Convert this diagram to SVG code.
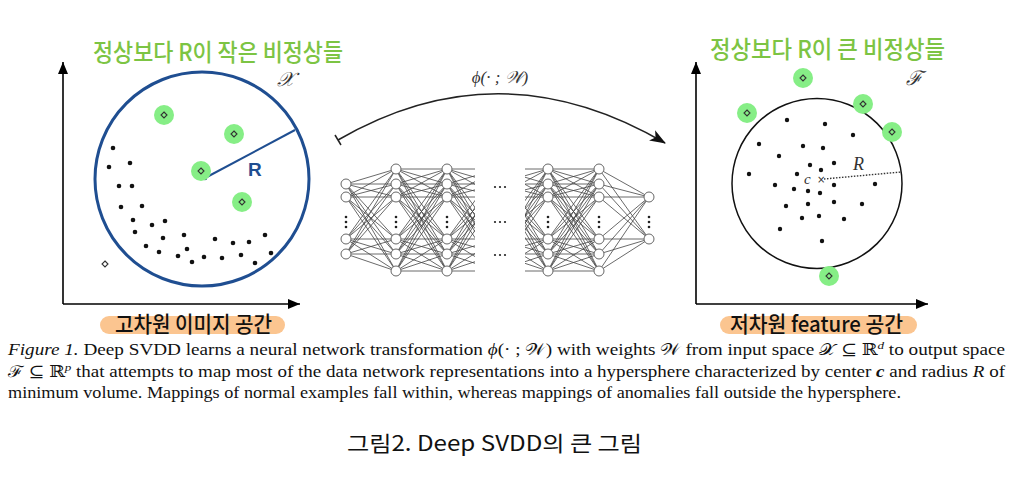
<svg xmlns="http://www.w3.org/2000/svg" xmlns:xlink="http://www.w3.org/1999/xlink" width="1014" height="477" viewBox="0 0 1014 477">
<style>
.dot{fill:#111}
.gc{fill:#86ee86}
.dia{fill:none;stroke:#333;stroke-width:1.1}
.node{fill:#fff;stroke:#666;stroke-width:1}
.edge{fill:none;stroke:#444;stroke-width:0.8}
.axis{stroke:#000;stroke-width:1.6;fill:none}
.vd{fill:#222}
.title{font-family:"Noto Sans CJK KR",sans-serif;font-size:24px;font-weight:500;fill:#7cc443}
.lab{font-family:"Noto Sans CJK KR",sans-serif;font-size:22px;font-weight:500;fill:#111}
.pill{fill:#fbc590}
.cap{font-family:"Liberation Serif","DejaVu Serif",serif;font-size:16px;fill:#111}
.math{font-family:"Liberation Serif","DejaVu Serif",serif;font-style:italic;fill:#333}
</style>
<defs>
<marker id="ah" viewBox="0 0 12 10" refX="12" refY="5" markerWidth="12" markerHeight="10" markerUnits="userSpaceOnUse" orient="auto">
<path d="M0 0L12 5L0 10Z" fill="#000"/>
</marker>
<marker id="bh" viewBox="0 0 16 12" refX="15" refY="6" markerWidth="16" markerHeight="12" markerUnits="userSpaceOnUse" orient="auto">
<path d="M0 0L16 6L0 12L4 6Z" fill="#111"/>
</marker>
<path id="dia" d="M0 -3L3 0L0 3L-3 0Z"/>
<path id="hh" d="M0 169L51 169M0 169L51 184M0 169L51 197M0 169L51 239M0 169L51 254M0 169L51 271M0 184L51 169M0 184L51 184M0 184L51 197M0 184L51 239M0 184L51 254M0 184L51 271M0 197L51 169M0 197L51 184M0 197L51 197M0 197L51 239M0 197L51 254M0 197L51 271M0 239L51 169M0 239L51 184M0 239L51 197M0 239L51 239M0 239L51 254M0 239L51 271M0 254L51 169M0 254L51 184M0 254L51 197M0 254L51 239M0 254L51 254M0 254L51 271M0 271L51 169M0 271L51 184M0 271L51 197M0 271L51 239M0 271L51 254M0 271L51 271"/>
<path id="ih" d="M0 184L50 169M0 184L50 184M0 184L50 197M0 184L50 239M0 184L50 254M0 184L50 271M0 197L50 169M0 197L50 184M0 197L50 197M0 197L50 239M0 197L50 254M0 197L50 271M0 239L50 169M0 239L50 184M0 239L50 197M0 239L50 239M0 239L50 254M0 239L50 271M0 254L50 169M0 254L50 184M0 254L50 197M0 254L50 239M0 254L50 254M0 254L50 271"/>
<path id="ho" d="M0 169L50 197M0 169L50 239M0 184L50 197M0 184L50 239M0 197L50 197M0 197L50 239M0 239L50 197M0 239L50 239M0 254L50 197M0 254L50 239M0 271L50 197M0 271L50 239"/>
<clipPath id="clipL"><rect x="440" y="150" width="35" height="130"/></clipPath>
<clipPath id="clipR"><rect x="525" y="150" width="30" height="130"/></clipPath>
<g id="vdots"><circle cx="0" cy="-5" r="1.3"/><circle cx="0" cy="0" r="1.3"/><circle cx="0" cy="5" r="1.3"/></g>
<g id="hdots"><circle cx="-5" cy="0" r="1.1"/><circle cx="0" cy="0" r="1.1"/><circle cx="5" cy="0" r="1.1"/></g>
</defs>
<rect width="1014" height="477" fill="#fff"/>

<!-- Left panel: input space -->
<g id="left-space">
<text class="title" x="93" y="61" textLength="250" lengthAdjust="spacingAndGlyphs">정상보다 R이 작은 비정상들</text>
<path class="axis" d="M63 304V62" marker-end="url(#ah)"/>
<path class="axis" d="M63 304H300" marker-end="url(#ah)"/>
<text class="math" x="277" y="86" font-size="20">𝒳</text>
<circle cx="202" cy="179" r="107" fill="none" stroke="#1f4e91" stroke-width="3"/>
<line x1="205" y1="178" x2="295" y2="130" stroke="#1f4e91" stroke-width="2"/>
<circle cx="205" cy="178" r="2.2" fill="#123d6e"/>
<text x="248" y="176" font-family="Liberation Sans,Arial,sans-serif" font-weight="bold" font-size="19" fill="#1f4e91">R</text>
<g>
<circle class="gc" cx="164" cy="115" r="10"/><circle class="gc" cx="234" cy="134" r="10"/><circle class="gc" cx="201" cy="171" r="10"/><circle class="gc" cx="242" cy="202" r="10"/>
<use href="#dia" class="dia" x="164" y="115"/><use href="#dia" class="dia" x="234" y="134"/><use href="#dia" class="dia" x="201" y="171"/><use href="#dia" class="dia" x="242" y="202"/>
<use href="#dia" class="dia" x="105" y="264"/>
</g>
<g>
<circle class="dot" cx="113" cy="148" r="2.3"/><circle class="dot" cx="109" cy="167" r="2.3"/><circle class="dot" cx="130" cy="163" r="2.3"/><circle class="dot" cx="119" cy="186" r="2.3"/><circle class="dot" cx="132" cy="186" r="2.3"/><circle class="dot" cx="121" cy="207" r="2.3"/><circle class="dot" cx="142" cy="206" r="2.3"/><circle class="dot" cx="133" cy="220" r="2.3"/><circle class="dot" cx="152" cy="225" r="2.3"/><circle class="dot" cx="165" cy="221" r="2.3"/><circle class="dot" cx="135" cy="232" r="2.3"/><circle class="dot" cx="163" cy="238" r="2.3"/><circle class="dot" cx="184" cy="235" r="2.3"/><circle class="dot" cx="146" cy="246" r="2.3"/><circle class="dot" cx="159" cy="252" r="2.3"/><circle class="dot" cx="187" cy="249" r="2.3"/><circle class="dot" cx="178" cy="256" r="2.3"/><circle class="dot" cx="192" cy="262" r="2.3"/><circle class="dot" cx="204" cy="257" r="2.3"/><circle class="dot" cx="215" cy="239" r="2.3"/><circle class="dot" cx="233" cy="243" r="2.3"/><circle class="dot" cx="249" cy="242" r="2.3"/><circle class="dot" cx="265" cy="235" r="2.3"/><circle class="dot" cx="222" cy="258" r="2.3"/><circle class="dot" cx="241" cy="255" r="2.3"/><circle class="dot" cx="255" cy="263" r="2.3"/><circle class="dot" cx="271" cy="253" r="2.3"/>
</g>
<rect class="pill" x="100" y="316" width="185" height="18" rx="9"/>
<text class="lab" x="115" y="332" textLength="157" lengthAdjust="spacingAndGlyphs">고차원 이미지 공간</text>
</g>

<!-- Middle: mapping arrow -->
<g id="connectors">
<path d="M338 140Q500 46 665 143" fill="none" stroke="#222" stroke-width="1.5" marker-end="url(#bh)"/>
<line x1="335" y1="135" x2="341" y2="145" stroke="#222" stroke-width="1.5"/>
<text class="math" x="500" y="83" font-size="17" text-anchor="middle" font-style="normal"><tspan font-style="italic">ϕ</tspan>(· ; 𝒲)</text>
</g>

<!-- Neural network -->
<g id="network">
<use href="#ih" class="edge" transform="translate(346,0)"/>
<use href="#hh" class="edge" transform="translate(396,0)"/>
<g clip-path="url(#clipL)"><use href="#hh" class="edge" transform="translate(447,0)"/></g>
<g clip-path="url(#clipR)"><use href="#hh" class="edge" transform="translate(497,0)"/></g>
<use href="#hh" class="edge" transform="translate(548,0)"/>
<use href="#ho" class="edge" transform="translate(599,0)"/>
<g class="node">
<circle cx="346" cy="184" r="5"/><circle cx="346" cy="197" r="5"/><circle cx="346" cy="239" r="5"/><circle cx="346" cy="254" r="5"/>
<circle cx="396" cy="169" r="5"/><circle cx="396" cy="184" r="5"/><circle cx="396" cy="197" r="5"/><circle cx="396" cy="239" r="5"/><circle cx="396" cy="254" r="5"/><circle cx="396" cy="271" r="5"/>
<circle cx="447" cy="169" r="5"/><circle cx="447" cy="184" r="5"/><circle cx="447" cy="197" r="5"/><circle cx="447" cy="239" r="5"/><circle cx="447" cy="254" r="5"/><circle cx="447" cy="271" r="5"/>
<circle cx="548" cy="169" r="5"/><circle cx="548" cy="184" r="5"/><circle cx="548" cy="197" r="5"/><circle cx="548" cy="239" r="5"/><circle cx="548" cy="254" r="5"/><circle cx="548" cy="271" r="5"/>
<circle cx="599" cy="169" r="5"/><circle cx="599" cy="184" r="5"/><circle cx="599" cy="197" r="5"/><circle cx="599" cy="239" r="5"/><circle cx="599" cy="254" r="5"/><circle cx="599" cy="271" r="5"/>
<circle cx="649" cy="197" r="5"/><circle cx="649" cy="239" r="5"/>
</g>
<g class="vd">
<use href="#vdots" x="346" y="222"/><use href="#vdots" x="396" y="222"/><use href="#vdots" x="447" y="222"/><use href="#vdots" x="548" y="222"/><use href="#vdots" x="599" y="222"/><use href="#vdots" x="649" y="222"/>
<use href="#hdots" x="500" y="187"/><use href="#hdots" x="500" y="222"/><use href="#hdots" x="500" y="255"/>
</g>
</g>

<!-- Right panel: feature space -->
<g id="right-space">
<text class="title" x="710" y="58" textLength="235" lengthAdjust="spacingAndGlyphs">정상보다 R이 큰 비정상들</text>
<path class="axis" d="M696 304V62" marker-end="url(#ah)"/>
<path class="axis" d="M696 304H928" marker-end="url(#ah)"/>
<text class="math" x="906" y="85" font-size="20">ℱ</text>
<circle cx="817" cy="183.5" r="85" fill="none" stroke="#111" stroke-width="1.5"/>
<line x1="824" y1="179" x2="901" y2="172" stroke="#333" stroke-width="1.4" stroke-dasharray="1.5 1.5"/>
<text class="math" x="804" y="184" font-size="15" fill="#555">c</text>
<text x="817" y="183" font-family="DejaVu Sans,sans-serif" font-size="10" fill="#333">×</text>
<text class="math" x="853" y="170" font-size="18" fill="#444">R</text>
<g>
<circle class="gc" cx="803" cy="78" r="10"/><circle class="gc" cx="747" cy="113" r="10"/><circle class="gc" cx="863" cy="104" r="10"/><circle class="gc" cx="892" cy="132" r="10"/><circle class="gc" cx="829" cy="276" r="10"/>
<use href="#dia" class="dia" x="803" y="78"/><use href="#dia" class="dia" x="747" y="113"/><use href="#dia" class="dia" x="863" y="104"/><use href="#dia" class="dia" x="892" y="132"/><use href="#dia" class="dia" x="829" y="276"/>
</g>
<g>
<circle class="dot" cx="787" cy="120" r="2.2"/><circle class="dot" cx="825" cy="124" r="2.2"/><circle class="dot" cx="853" cy="135" r="2.2"/><circle class="dot" cx="759" cy="144" r="2.2"/><circle class="dot" cx="803" cy="146" r="2.2"/><circle class="dot" cx="823" cy="148" r="2.2"/><circle class="dot" cx="779" cy="156" r="2.2"/><circle class="dot" cx="834" cy="163" r="2.2"/><circle class="dot" cx="810" cy="165" r="2.2"/><circle class="dot" cx="821" cy="170" r="2.2"/><circle class="dot" cx="749" cy="174" r="2.2"/><circle class="dot" cx="797" cy="174" r="2.2"/><circle class="dot" cx="775" cy="185" r="2.2"/><circle class="dot" cx="834" cy="185" r="2.2"/><circle class="dot" cx="875" cy="184" r="2.2"/><circle class="dot" cx="794" cy="189" r="2.2"/><circle class="dot" cx="808" cy="191" r="2.2"/><circle class="dot" cx="820" cy="193" r="2.2"/><circle class="dot" cx="786" cy="206" r="2.2"/><circle class="dot" cx="808" cy="204" r="2.2"/><circle class="dot" cx="834" cy="202" r="2.2"/><circle class="dot" cx="862" cy="204" r="2.2"/><circle class="dot" cx="802" cy="218" r="2.2"/><circle class="dot" cx="819" cy="216" r="2.2"/><circle class="dot" cx="844" cy="219" r="2.2"/><circle class="dot" cx="780" cy="229" r="2.2"/><circle class="dot" cx="822" cy="241" r="2.2"/>
</g>
<rect class="pill" x="720" y="316" width="197" height="18" rx="9"/>
<text class="lab" x="730" y="332" textLength="173" lengthAdjust="spacingAndGlyphs">저차원 feature 공간</text>
</g>

<!-- Caption -->
<g id="caption">
<text class="cap" x="8" y="355" textLength="997" lengthAdjust="spacingAndGlyphs"><tspan font-style="italic">Figure 1.</tspan> Deep SVDD learns a neural network transformation <tspan font-style="italic">ϕ</tspan>(· ; 𝒲) with weights 𝒲 from input space 𝒳 ⊆ ℝ<tspan font-size="11" dy="-6" font-style="italic">d</tspan><tspan dy="6"> to output space</tspan></text>
<text class="cap" x="8" y="377" textLength="997" lengthAdjust="spacingAndGlyphs">ℱ ⊆ ℝ<tspan font-size="11" dy="-6" font-style="italic">p</tspan><tspan dy="6"> that attempts to map most of the data network representations into a hypersphere characterized by center </tspan><tspan font-style="italic" font-weight="bold">c</tspan> and radius <tspan font-style="italic">R</tspan> of</text>
<text class="cap" x="8" y="398" textLength="893" lengthAdjust="spacingAndGlyphs">minimum volume. Mappings of normal examples fall within, whereas mappings of anomalies fall outside the hypersphere.</text>
<text x="347" y="451" font-family="Noto Sans CJK KR,sans-serif" font-size="21" fill="#111" textLength="295" lengthAdjust="spacingAndGlyphs">그림2. Deep SVDD의 큰 그림</text>
</g>
</svg>
